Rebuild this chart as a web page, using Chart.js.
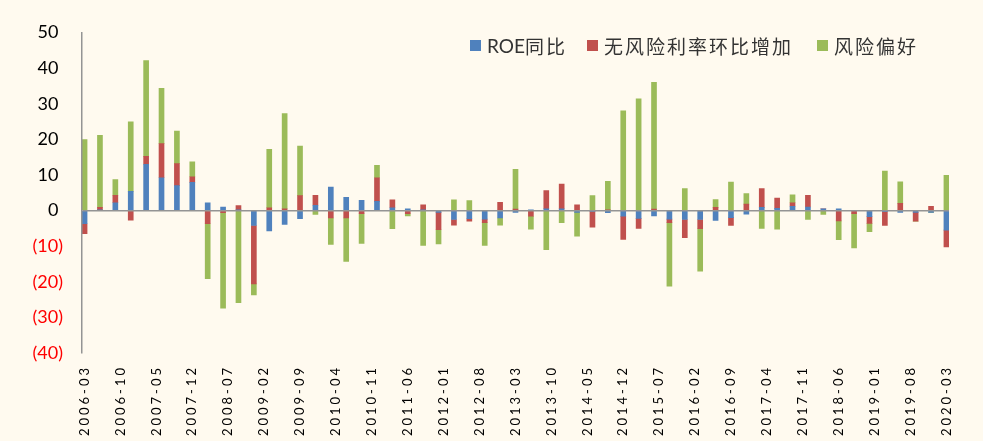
<!DOCTYPE html>
<html>
<head>
<meta charset="utf-8">
<script src="https://cdn.jsdelivr.net/npm/chart.js@4/dist/chart.umd.min.js"></script>
<style>
  html, body { margin: 0; padding: 0; background: #fffaef; }
  #wrap { position: relative; width: 983px; height: 441px; }
  canvas { display: block; }
  .item { position: absolute; top: 34px; height: 22px; display: flex; align-items: center;
          font: 19px Lato, "Noto Sans CJK SC", sans-serif; color: #333; white-space: nowrap; }
  .item i { display: inline-block; width: 11px; height: 11px; margin-right: 6px; }
  .cjk { letter-spacing: 2px; }
</style>
</head>
<body>
<div id="wrap">
  <canvas id="chart" width="983" height="441"></canvas>
  <div class="item" style="left:470px"><i style="background:#4F81BD"></i>ROE<span class="cjk">同比</span></div>
  <div class="item" style="left:587px"><i style="background:#C0504D"></i><span class="cjk">无风险利率环比增加</span></div>
  <div class="item" style="left:817px"><i style="background:#9BBB59"></i><span class="cjk">风险偏好</span></div>
</div>
<script>
const quarters = [
  "2006-03","2006-06","2006-09","2006-12","2007-03","2007-06","2007-09","2007-12",
  "2008-03","2008-06","2008-09","2008-12","2009-03","2009-06","2009-09","2009-12",
  "2010-03","2010-06","2010-09","2010-12","2011-03","2011-06","2011-09","2011-12",
  "2012-03","2012-06","2012-09","2012-12","2013-03","2013-06","2013-09","2013-12",
  "2014-03","2014-06","2014-09","2014-12","2015-03","2015-06","2015-09","2015-12",
  "2016-03","2016-06","2016-09","2016-12","2017-03","2017-06","2017-09","2017-12",
  "2018-03","2018-06","2018-09","2018-12","2019-03","2019-06","2019-09","2019-12",
  "2020-03"
];

const tickLabels = [
  "2006-03","2006-10","2007-05","2007-12","2008-07","2009-02","2009-09","2010-04",
  "2010-11","2011-06","2012-01","2012-08","2013-03","2013-10","2014-05","2014-12",
  "2015-07","2016-02","2016-09","2017-04","2017-11","2018-06","2019-01","2019-08",
  "2020-03"
];

const roeYoY = [
  -3.7, 0.1, 2.2, 5.4, 13.0, 9.2, 7.0, 7.9,
  2.2, 1.0, 0.1, -4.2, -5.7, -3.9, -2.3, 1.5,
  6.6, 3.7, 2.9, 2.6, 0.8, 0.5, 0.1, -0.5,
  -2.5, -2.3, -2.4, -2.1, -0.5, 0.1, 0.5, 0.5,
  -0.5, -0.2, -0.6, -1.6, -2.2, -1.5, -2.4, -2.5,
  -2.5, -2.8, -2.0, -1.0, 0.9, 0.6, 1.2, 1.0,
  0.5, 0.5, 0.0, -1.7, -0.3, -0.5, -0.5, -0.5,
  -5.5
];

const riskFreeChg = [
  -2.8, 0.8, 2.1, -2.7, 2.2, 9.6, 6.2, 1.6,
  -3.7, -0.6, 1.3, -16.4, 0.8, 0.5, 4.2, 2.8,
  -2.1, -2.1, -0.9, 6.6, 2.2, -0.9, 1.5, -4.9,
  -1.6, -0.7, -1.0, 2.3, 0.4, -1.6, 5.1, 6.9,
  1.6, -4.5, 0.1, -6.5, -2.8, 0.4, -1.0, -5.1,
  -2.6, 0.9, -2.2, 1.8, 5.3, 2.9, 1.0, 3.3,
  0.0, -2.9, -0.9, -1.9, -3.9, 2.0, -2.5, 1.2,
  -4.7
];

const riskAppetite = [
  19.9, 20.2, 4.4, 19.5, 26.9, 15.5, 9.1, 4.2,
  -15.4, -26.8, -25.9, -3.1, 16.4, 26.7, 13.9, -1.1,
  -7.4, -12.2, -8.3, 3.5, -5.1, -0.6, -9.8, -4.0,
  3.0, 2.8, -6.4, -2.0, 11.2, -3.6, -11.0, -3.4,
  -6.7, 4.2, 8.1, 28.0, 31.4, 35.6, -17.8, 6.2,
  -11.9, 2.2, 8.0, 3.0, -5.0, -5.2, 2.2, -2.5,
  -1.1, -5.3, -9.6, -2.3, 11.1, 6.1, 0.0, 0.0,
  9.9
];

// months since 2006-03, used as x position
function monthIndex(s) {
  const [y, m] = s.split("-").map(Number);
  return (y - 2006) * 12 + (m - 3);
}

function series(vals) {
  return quarters.map((q, i) => ({ x: monthIndex(q), y: vals[i] }));
}

// spread the rotated date labels a little
const xLabelSpacing = {
  id: "xLabelSpacing",
  afterLayout(chart) {
    const sc = chart.scales.x;
    if (sc._spaced) return;
    const orig = sc.drawLabels.bind(sc);
    sc.drawLabels = function (area) {
      chart.ctx.save();
      chart.ctx.letterSpacing = "3px";
      orig(area);
      chart.ctx.restore();
    };
    sc._spaced = true;
  }
};

const ctx = document.getElementById("chart").getContext("2d");

new Chart(ctx, {
  type: "bar",
  data: {
    datasets: [
      { label: "ROE同比", data: series(roeYoY), backgroundColor: "#4F81BD", barThickness: 5 },
      { label: "无风险利率环比增加", data: series(riskFreeChg), backgroundColor: "#C0504D", barThickness: 5 },
      { label: "风险偏好", data: series(riskAppetite), backgroundColor: "#9BBB59", barThickness: 5 }
    ]
  },
  options: {
    responsive: false,
    animation: false,
    layout: { padding: { top: 32.5, right: 34, left: 0, bottom: 0 } },
    plugins: { legend: { display: false }, tooltip: { enabled: false } },
    scales: {
      x: {
        type: "linear",
        stacked: true,
        min: -0.5,
        max: 168.5,
        offset: false,
        grid: { display: false, drawTicks: false, offset: false },
        border: { display: false },
        afterBuildTicks: s => { s.ticks = tickLabels.map(l => ({ value: monthIndex(l) })); },
        afterFit: s => { s.height = 88; },
        ticks: {
          autoSkip: false,
          minRotation: 90,
          maxRotation: 90,
          padding: 12,
          color: "#000",
          font: { family: "Lato", size: 13 },
          callback: (v, i) => tickLabels[i]
        }
      },
      y: {
        stacked: true,
        min: -40,
        max: 50,
        afterFit: s => { s.width = 82; },
        ticks: {
          stepSize: 10,
          padding: 19,
          font: { family: "Lato", size: 18 },
          color: c => c.tick.value < 0 ? "#FF0000" : "#000",
          callback: v => v < 0 ? "(" + (-v) + ")" : v + " "
        },
        grid: {
          drawTicks: false,
          z: 1,
          lineWidth: 1.5,
          color: c => c.tick.value === 0 ? "#949494" : "rgba(0,0,0,0)"
        },
        border: { color: "#949494", width: 1.5, z: 1 }
      }
    }
  },
  plugins: [xLabelSpacing]
});
</script>
</body>
</html>
